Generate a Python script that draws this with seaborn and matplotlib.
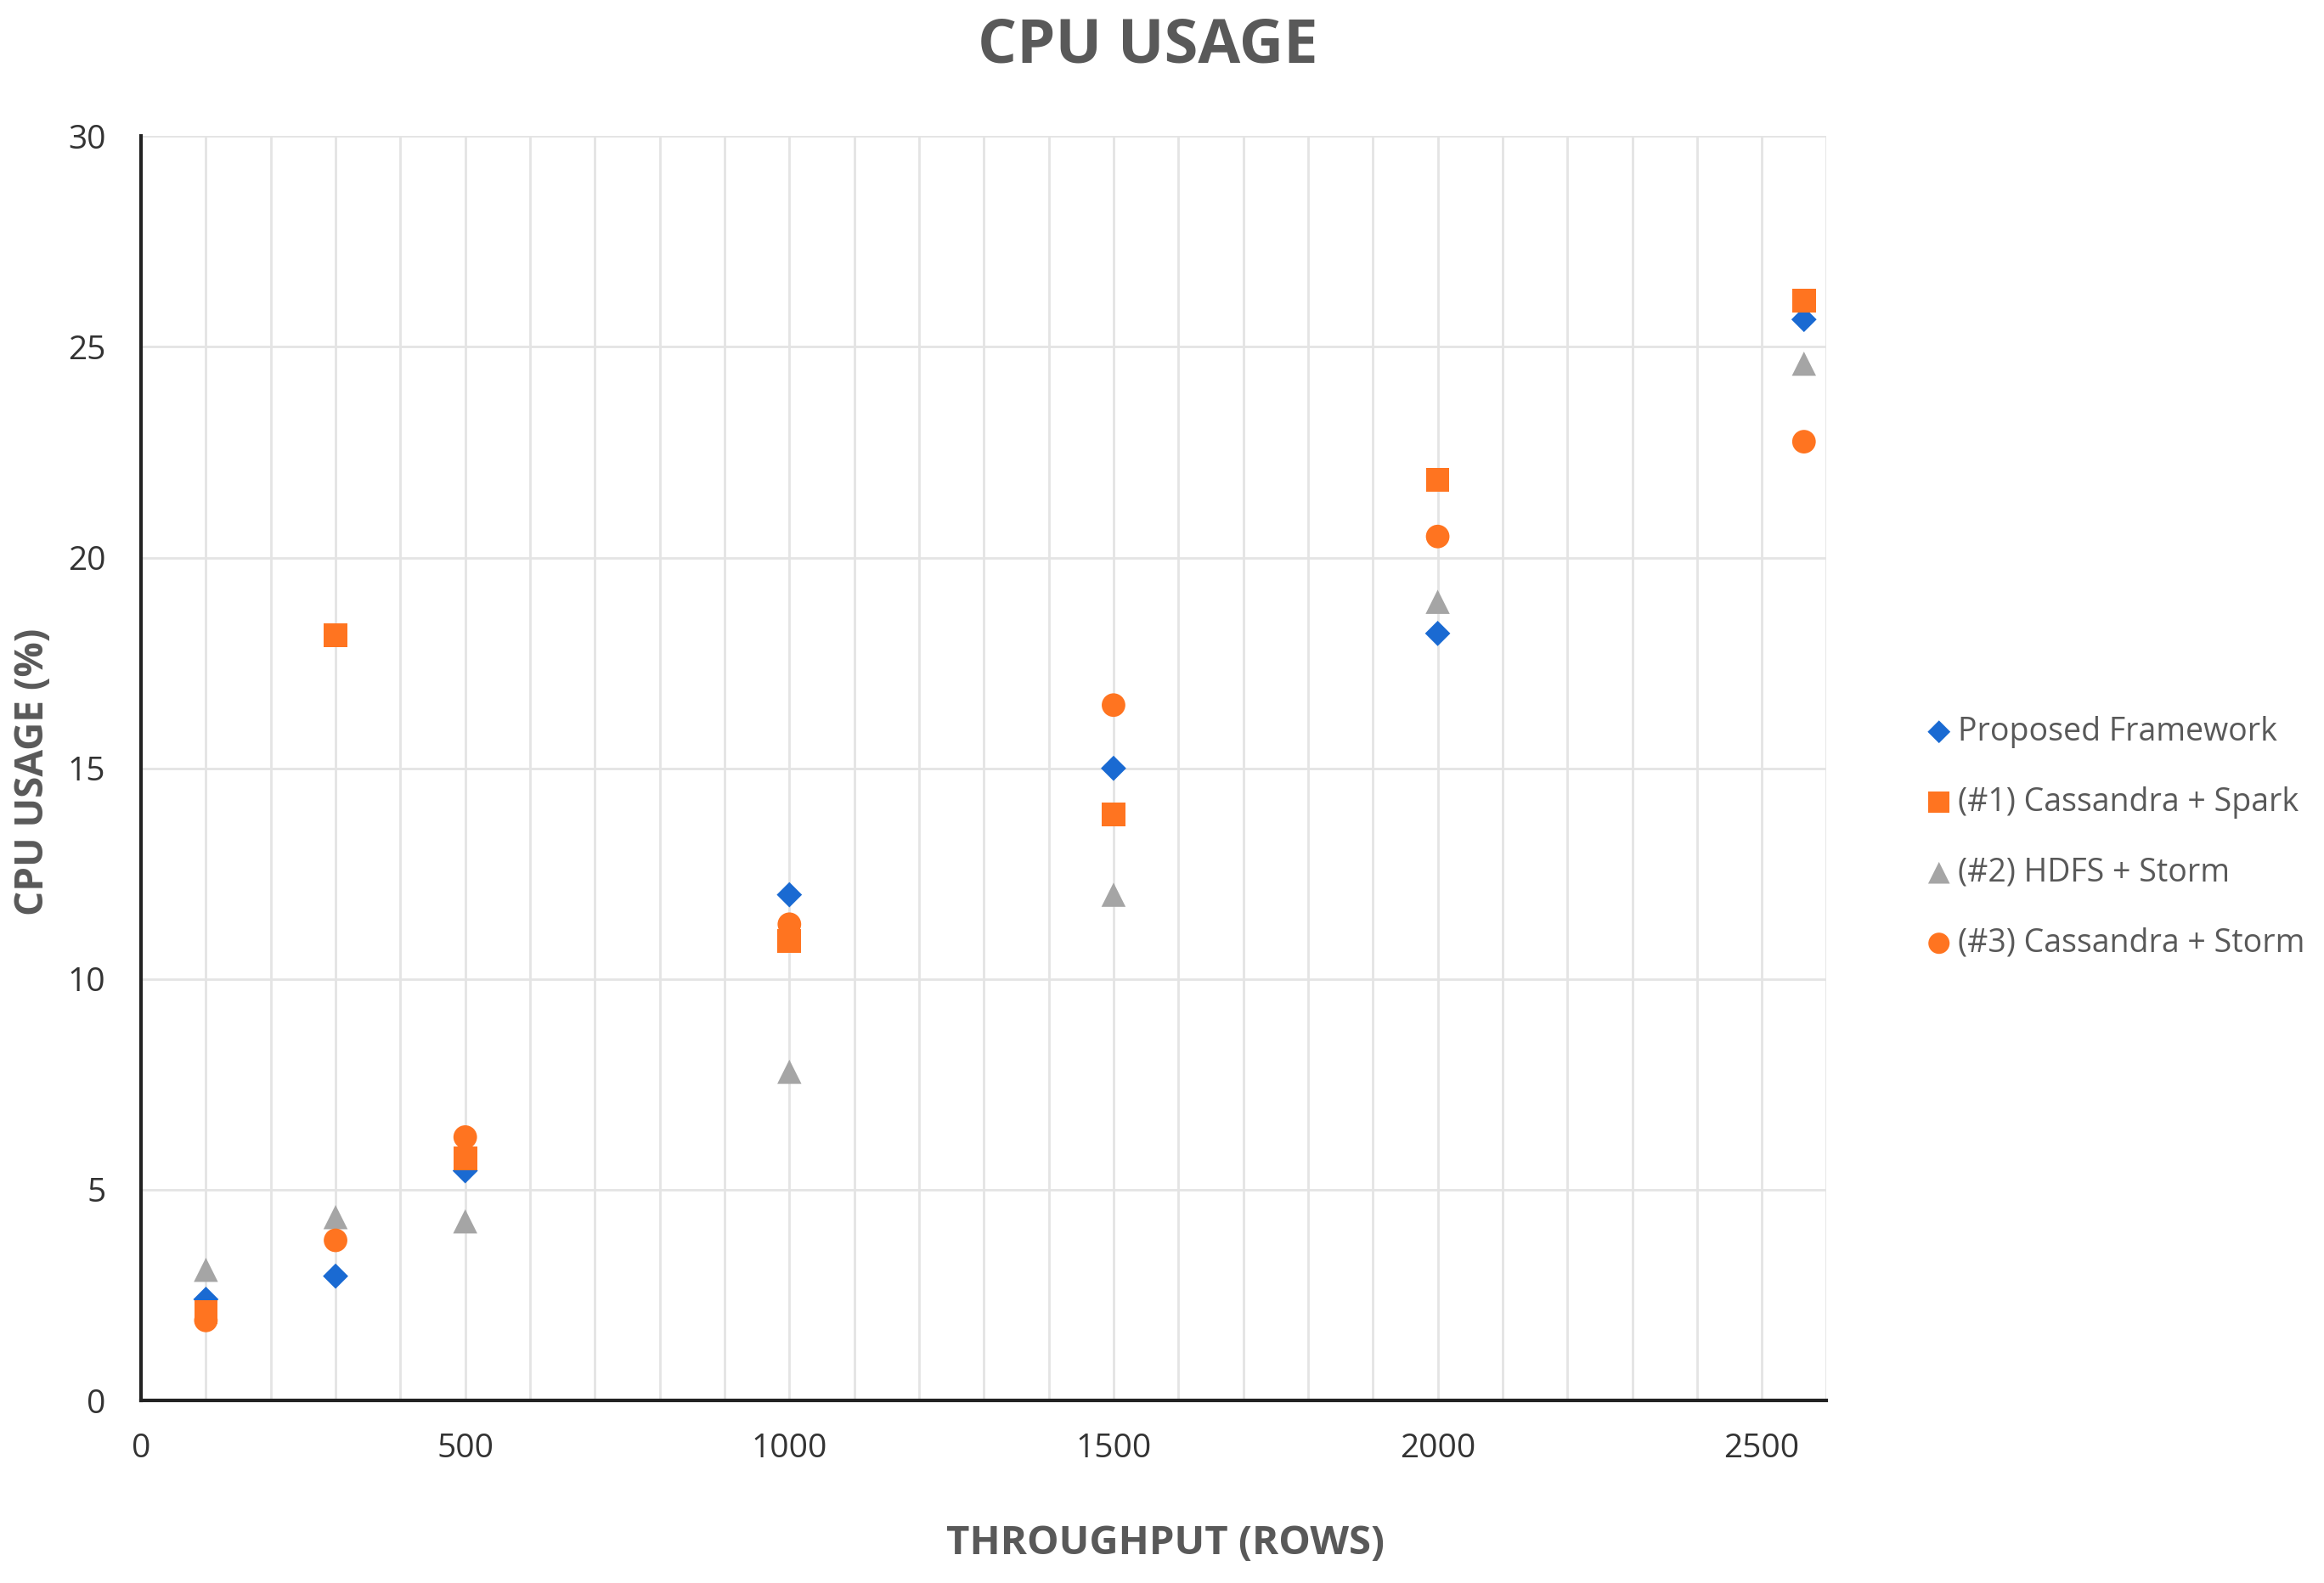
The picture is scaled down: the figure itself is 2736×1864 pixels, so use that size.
import matplotlib
matplotlib.use("Agg")
import matplotlib.pyplot as plt
from matplotlib.ticker import MultipleLocator
import pandas as pd
import seaborn as sns

# Throughput (rows) for each measurement
throughput = [100, 300, 500, 1000, 1500, 2000, 2565]

series_names = [
    "Proposed Framework",
    "(#1) Cassandra + Spark",
    "(#2) HDFS + Storm",
    "(#3) Cassandra + Storm",
]

# CPU usage (%) per series
proposed = [2.4, 2.95, 5.45, 12.0, 15.0, 18.2, 25.65]
cassandra_spark = [2.1, 18.15, 5.75, 10.9, 13.9, 21.85, 26.1]
hdfs_storm = [3.1, 4.35, 4.25, 7.8, 12.0, 18.95, 24.6]
cassandra_storm = [1.9, 3.8, 6.25, 11.3, 16.5, 20.5, 22.75]

colors = ["#1A6AD2", "#FF7420", "#A5A5A5", "#FF7420"]
markers = ["D", "s", "^", "o"]
sizes = [230, 400, 420, 400]

frames = []
for name, vals in zip(series_names, [proposed, cassandra_spark, hdfs_storm, cassandra_storm]):
    frames.append(pd.DataFrame({"throughput": throughput, "cpu": vals, "series": name}))
df = pd.concat(frames, ignore_index=True)

sns.set_style("whitegrid")
plt.rcParams["font.family"] = ["Open Sans", "DejaVu Sans"]

fig = plt.figure(figsize=(27.36, 18.64), dpi=100)
ax = fig.add_axes([0.0607, 0.1153, 0.7253, 0.7987])

for name, color, marker, size in zip(series_names, colors, markers, sizes):
    sub = df[df["series"] == name]
    sns.scatterplot(data=sub, x="throughput", y="cpu", color=color, marker=marker,
                    s=size, edgecolor="none", label=name, ax=ax, zorder=3)

ax.set_xlim(0, 2600)
ax.set_ylim(0, 30)
ax.xaxis.set_major_locator(MultipleLocator(500))
ax.xaxis.set_minor_locator(MultipleLocator(100))
ax.yaxis.set_major_locator(MultipleLocator(5))
ax.grid(which="both", axis="x", color="#E4E4E4", linewidth=2)
ax.grid(which="major", axis="y", color="#E4E4E4", linewidth=2)
ax.set_axisbelow(True)

for side in ["top", "right"]:
    ax.spines[side].set_visible(False)
for side in ["left", "bottom"]:
    ax.spines[side].set_color("#222222")
    ax.spines[side].set_linewidth(3)

ax.tick_params(which="both", length=0, labelsize=28, labelcolor="#333333")
ax.tick_params(axis="x", pad=27)
ax.tick_params(axis="y", pad=30)

ax.set_xlabel("THROUGHPUT (ROWS)", fontsize=34, fontweight="bold", color="#595959",
              va="center")
ax.xaxis.set_label_coords(0.6077, -0.113)
ax.set_ylabel("CPU USAGE (%)", fontsize=33, fontweight="bold", color="#595959",
              va="center")
ax.yaxis.set_label_coords(-0.0645, 0.497)
fig.text(0.494, 0.971, "CPU USAGE", ha="center", va="center", fontsize=52,
         fontweight="bold", color="#595959")

handles, labels = ax.get_legend_handles_labels()
ax.legend(handles, labels, loc="center left", bbox_to_anchor=(0.822, 0.471),
          bbox_transform=fig.transFigure, frameon=False, fontsize=27,
          labelcolor="#595959", handletextpad=0.1, labelspacing=1.2,
          markerscale=0.9, handlelength=1.0, borderaxespad=0)

fig.savefig("out.png", dpi=100)
